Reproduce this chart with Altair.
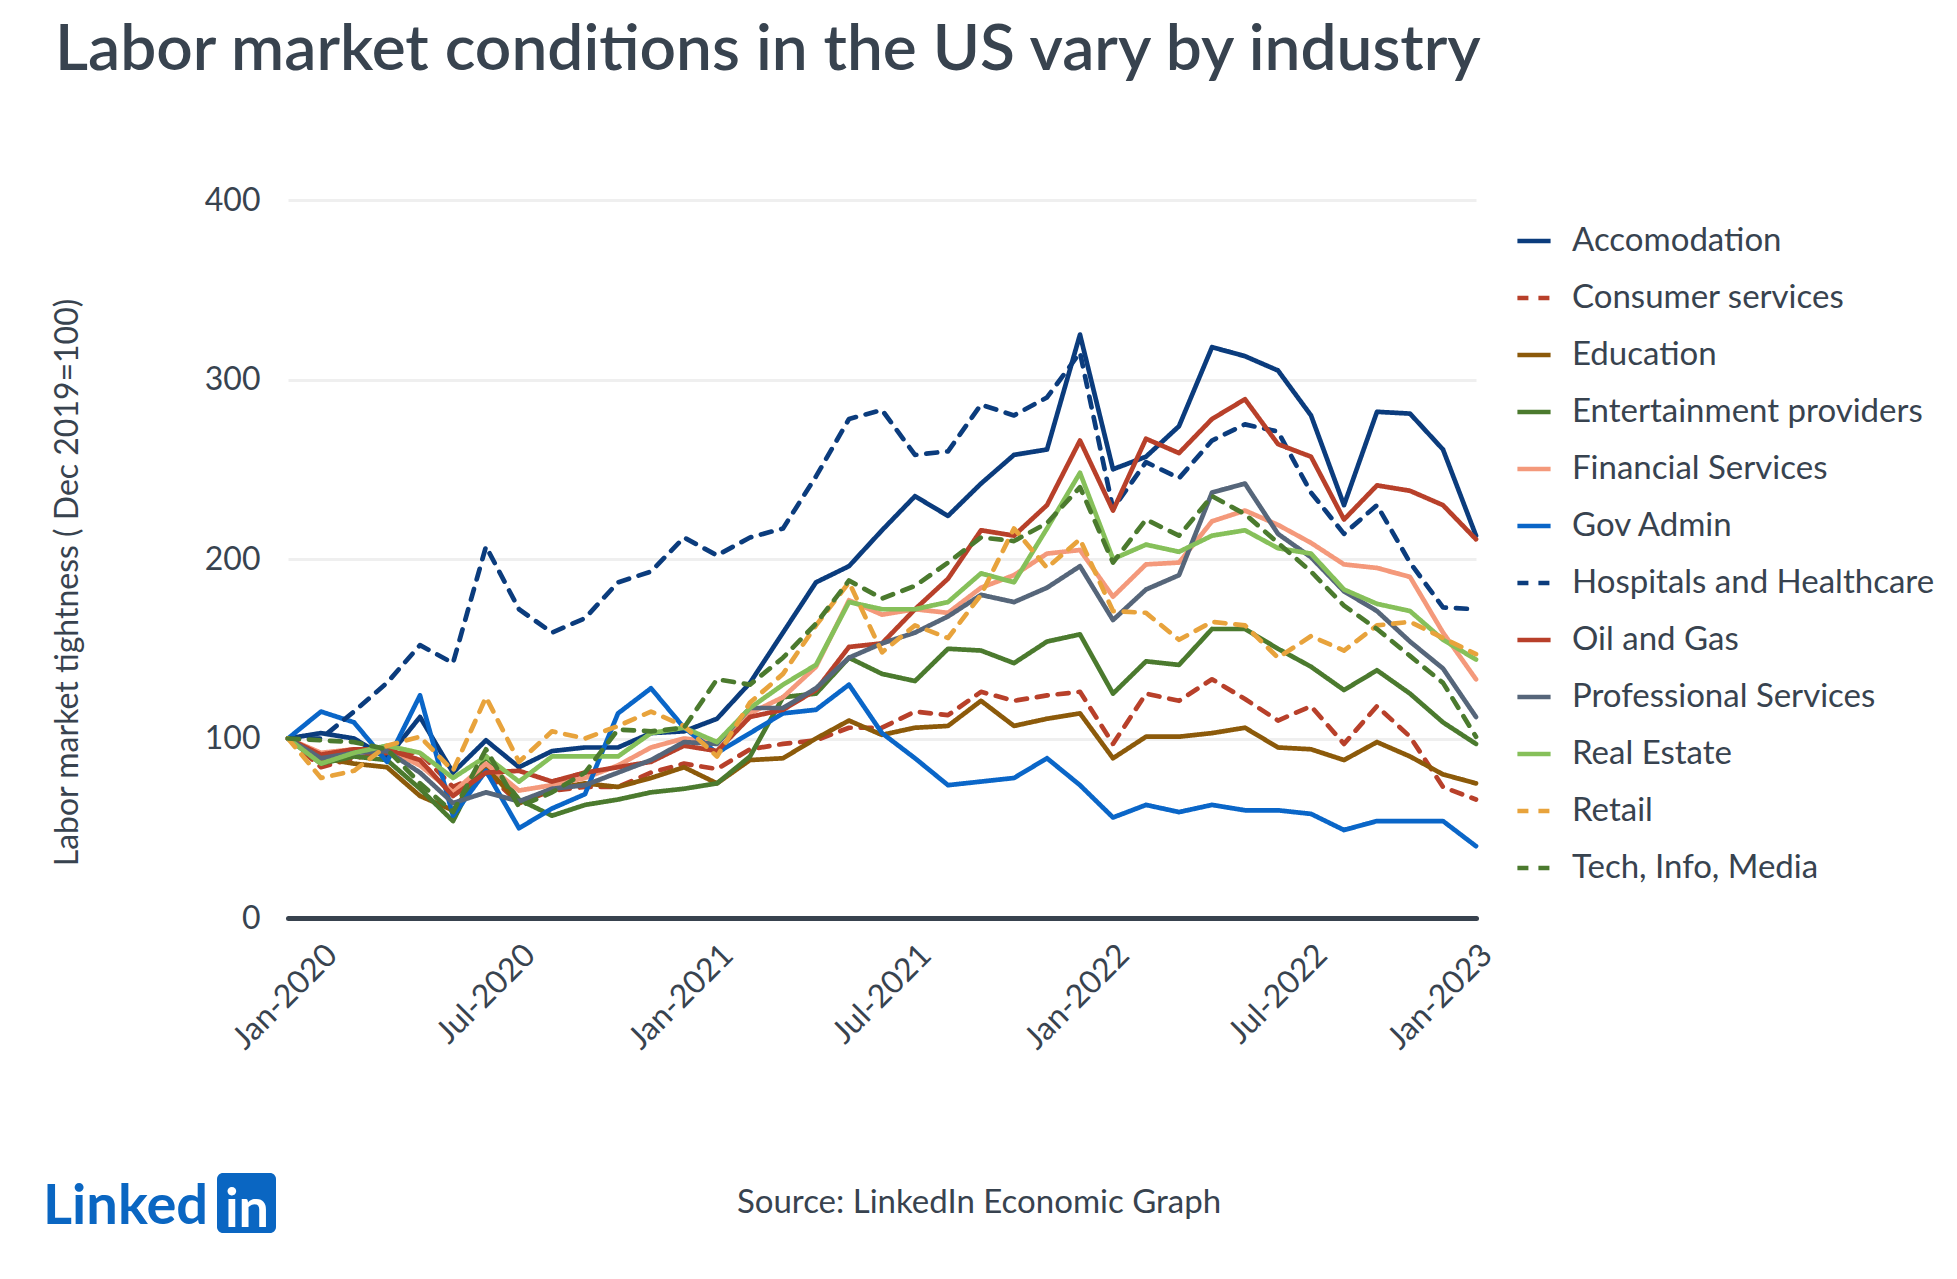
import json
import altair as alt
import pandas as pd

# ---------------- data ----------------
months = ["Dec-2019"] + [f"{m}-{y}" for y in (2020, 2021, 2022)
                         for m in ["Jan", "Feb", "Mar", "Apr", "May", "Jun",
                                   "Jul", "Aug", "Sep", "Oct", "Nov", "Dec"]]

tick_idx = [1, 7, 13, 19, 25, 31, 36]
tick_labels = ["Jan-2020", "Jul-2020", "Jan-2021", "Jul-2021", "Jan-2022", "Jul-2022", "Jan-2023"]

series = ["Accomodation", "Consumer services", "Education", "Entertainment providers",
          "Financial Services", "Gov Admin", "Hospitals and Healthcare", "Oil and Gas",
          "Professional Services", "Real Estate", "Retail", "Tech, Info, Media"]

accomodation = [100, 103, 100, 89, 112, 81, 99, 84, 93, 95, 95, 103, 104, 111, 131, 159, 187, 196, 216,
                235, 224, 242, 258, 261, 325, 250, 257, 274, 318, 313, 305, 280, 230, 282, 281, 261, 213]
consumer = [100, 84, 89, 92, 92, 73, 81, 64, 71, 73, 73, 81, 86, 83, 94, 97, 99, 106, 106,
            115, 113, 126, 121, 124, 126, 97, 125, 121, 133, 122, 110, 118, 97, 118, 101, 73, 66]
education = [100, 89, 86, 84, 68, 60, 84, 64, 72, 75, 73, 78, 84, 75, 88, 89, 100, 110, 102,
             106, 107, 121, 107, 111, 114, 89, 101, 101, 103, 106, 95, 94, 88, 98, 90, 80, 75]
entertainment = [100, 86, 90, 88, 72, 54, 90, 66, 57, 63, 66, 70, 72, 75, 90, 123, 125, 145, 136,
                 132, 150, 149, 142, 154, 158, 125, 143, 141, 161, 161, 150, 140, 127, 138, 125, 109, 97]
financial = [100, 92, 94, 94, 85, 70, 86, 71, 74, 78, 85, 95, 100, 98, 114, 123, 140, 177, 169,
             172, 170, 184, 191, 203, 205, 179, 197, 198, 221, 227, 219, 209, 197, 195, 190, 159, 133]
gov_admin = [100, 115, 109, 87, 124, 57, 82, 50, 61, 69, 114, 128, 106, 92, 103, 114, 116, 130, 103,
             89, 74, 76, 78, 89, 74, 56, 63, 59, 63, 60, 60, 58, 49, 54, 54, 54, 40]
hospitals = [100, 100, 115, 131, 152, 142, 207, 172, 159, 167, 187, 193, 212, 202, 212, 217, 246, 278, 283,
             258, 260, 286, 280, 290, 315, 228, 254, 245, 266, 275, 271, 237, 214, 230, 198, 173, 172]
oil_gas = [100, 91, 94, 94, 88, 68, 81, 82, 76, 81, 84, 87, 96, 93, 112, 116, 127, 151, 153,
           172, 189, 216, 213, 230, 266, 227, 267, 259, 278, 289, 264, 257, 222, 241, 238, 230, 211]
professional = [100, 89, 92, 93, 81, 64, 70, 65, 72, 74, 81, 88, 98, 97, 117, 117, 128, 145, 153,
                159, 168, 180, 176, 184, 196, 166, 183, 191, 237, 242, 214, 201, 182, 171, 154, 139, 112]
real_estate = [100, 86, 92, 96, 92, 78, 90, 76, 90, 90, 90, 103, 106, 98, 117, 130, 141, 176, 172,
               172, 176, 192, 187, 217, 248, 200, 208, 204, 213, 216, 206, 203, 183, 175, 171, 155, 144]
retail = [100, 78, 82, 96, 101, 82, 123, 87, 104, 100, 107, 115, 107, 90, 120, 136, 163, 187, 148,
          163, 156, 180, 217, 195, 211, 171, 170, 155, 165, 163, 145, 157, 149, 163, 165, 156, 147]
tech = [100, 99, 98, 94, 75, 59, 94, 62, 70, 81, 105, 104, 106, 133, 130, 145, 164, 188, 178,
        185, 198, 212, 210, 220, 240, 198, 222, 213, 235, 225, 209, 193, 174, 161, 146, 131, 101]

values = [accomodation, consumer, education, entertainment, financial, gov_admin,
          hospitals, oil_gas, professional, real_estate, retail, tech]

colors = ["#0b3c7d", "#b8402a", "#8c5a0a", "#4b7a2e", "#f4997b", "#0a66c8",
          "#0b3c7d", "#b8402a", "#56667a", "#86c05a", "#e8a33c", "#4b7a2e"]
dashed = [False, True, False, False, False, False, True, False, False, False, True, True]

rows = []
for name, vals in zip(series, values):
    for i, v in enumerate(vals):
        rows.append({"series": name, "m": i, "month": months[i], "value": v})
df = pd.DataFrame(rows)

lab = [""] * len(months)
for i, t in zip(tick_idx, tick_labels):
    lab[i] = t
label_expr = json.dumps(lab) + "[datum.value]"

TXT = "#38434f"
FONT = "Lato"

legend = alt.Legend(orient="none", legendX=1227, legendY=22, title=None,
                    symbolType="stroke", symbolSize=1100, symbolStrokeWidth=4.5,
                    labelFontSize=33, labelFont=FONT, labelColor=TXT, labelOffset=19,
                    rowPadding=21, padding=0, labelLimit=600)

lines = alt.Chart(df).mark_line(strokeWidth=4.7, strokeJoin="round", strokeCap="round").encode(
    x=alt.X("m:Q", scale=alt.Scale(domain=[0, 36], nice=False, zero=False),
            axis=alt.Axis(values=tick_idx, labelExpr=label_expr, labelAngle=-45,
                          labelAlign="right", labelBaseline="top", labelPadding=21,
                          labelOffset=0, labelFontSize=32, labelFont=FONT, labelColor=TXT,
                          grid=False, ticks=False, domain=True, domainColor="#38424e",
                          domainWidth=5, domainCap="round", title=None)),
    y=alt.Y("value:Q", scale=alt.Scale(domain=[0, 400], nice=False),
            axis=alt.Axis(values=[0, 100, 200, 300, 400], grid=True, gridColor="#efefef",
                          gridWidth=3, domain=False, ticks=False, labelFontSize=32,
                          labelFont=FONT, labelColor=TXT, labelPadding=28,
                          title="Labor market tightness ( Dec 2019=100)",
                          titleFont=FONT, titleFontSize=32, titleFontWeight="normal",
                          titleColor=TXT, titleAngle=-90, titleX=-221, titleY=382,
                          titleAlign="center", titleBaseline="middle")),
    color=alt.Color("series:N", scale=alt.Scale(domain=series, range=colors), legend=legend),
    strokeDash=alt.StrokeDash("series:N",
                              scale=alt.Scale(domain=series,
                                              range=[[11, 10] if d else [1, 0] for d in dashed]),
                              legend=legend),
    detail="series:N",
)

one = pd.DataFrame({"k": [0]})

title = alt.Chart(one).mark_text(
    text="Labor market conditions in the US vary by industry", align="left",
    baseline="alphabetic", fontSize=64, font=FONT, fontWeight=600, color=TXT
).encode(x=alt.value(-233), y=alt.value(-130))

source = alt.Chart(one).mark_text(
    text="Source: LinkedIn Economic Graph", align="center", baseline="alphabetic",
    fontSize=33, font=FONT, color=TXT
).encode(x=alt.value(691), y=alt.value(1013))

logo_txt = alt.Chart(one).mark_text(
    text="Linked", align="left", baseline="alphabetic", fontSize=56, font=FONT,
    fontWeight="bold", color="#0a66c2"
).encode(x=alt.value(-245), y=alt.value(1024))

logo_box = alt.Chart(one).mark_rect(color="#0a66c2", cornerRadius=6).encode(
    x=alt.value(-71), x2=alt.value(-12), y=alt.value(973), y2=alt.value(1033))

logo_in = alt.Chart(one).mark_text(
    text="in", align="center", baseline="alphabetic", fontSize=54, font=FONT,
    fontWeight="bold", color="white"
).encode(x=alt.value(-41), y=alt.value(1027))

chart = alt.layer(lines, title, source, logo_txt, logo_box, logo_in).properties(
    width=1188, height=718,
    autosize=alt.AutoSizeParams(type="none"),
    padding={"left": 280, "top": 192, "right": 473, "bottom": 350},
    background="white",
).configure_view(stroke=None)

chart.save("out.html", embed_options={"renderer": "svg", "actions": False})
